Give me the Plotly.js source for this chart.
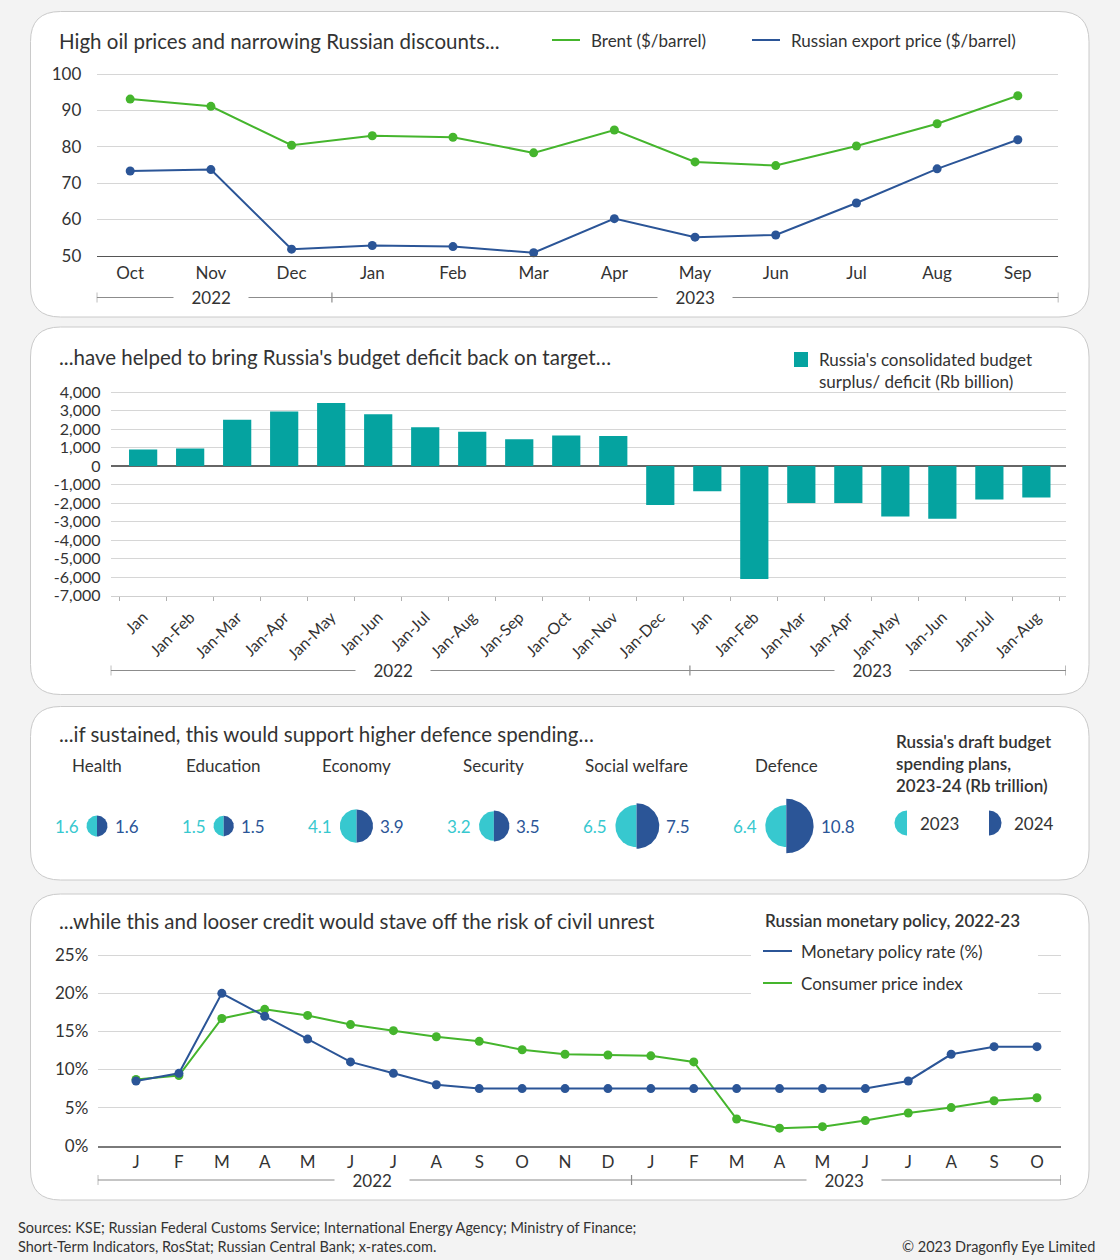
<!DOCTYPE html>
<html><head><meta charset="utf-8">
<script src="https://cdn.plot.ly/plotly-3.0.1.min.js"></script>
<style>html,body{margin:0;padding:0;background:#f3f3f3;}#chart{width:1120px;height:1260px;}</style>
</head><body><div id="chart"></div>
<script>
// ---------------- DATA ----------------
const oilMonths = ['Oct','Nov','Dec','Jan','Feb','Mar','Apr','May','Jun','Jul','Aug','Sep'];
const brentPrice = [93.1,91.1,80.4,83.0,82.6,78.3,84.6,75.8,74.8,80.2,86.3,94.0];
const russianExportPrice = [73.3,73.7,51.8,52.8,52.5,50.8,60.2,55.1,55.7,64.5,73.9,81.9];
const oilTickVals = [50,60,70,80,90,100];
const oilTickText = ['50','60','70','80','90','100'];
const yearLabels = ['2022','2023'];

const budgetPeriods = ['Jan','Jan-Feb','Jan-Mar','Jan-Apr','Jan-May','Jan-Jun','Jan-Jul','Jan-Aug','Jan-Sep','Jan-Oct','Jan-Nov','Jan-Dec','Jan','Jan-Feb','Jan-Mar','Jan-Apr','Jan-May','Jan-Jun','Jan-Jul','Jan-Aug'];
const budgetBalance = [900,950,2500,2950,3400,2800,2100,1850,1450,1650,1620,-2100,-1360,-6100,-2000,-2000,-2720,-2850,-1800,-1700];
const budgetTickVals = [4000,3000,2000,1000,0,-1000,-2000,-3000,-4000,-5000,-6000,-7000];
const budgetTickText = ['4,000','3,000','2,000','1,000','0','-1,000','-2,000','-3,000','-4,000','-5,000','-6,000','-7,000'];

const spendingSectors = ['Health','Education','Economy','Security','Social welfare','Defence'];
const spending2023 = [1.6,1.5,4.1,3.2,6.5,6.4];
const spending2024 = [1.6,1.5,3.9,3.5,7.5,10.8];
const spendingYears = ['2023','2024'];

const policyMonths = ['J','F','M','A','M','J','J','A','S','O','N','D','J','F','M','A','M','J','J','A','S','O'];
const policyRate = [8.5,9.5,20,17,14,11,9.5,8,7.5,7.5,7.5,7.5,7.5,7.5,7.5,7.5,7.5,7.5,8.5,12,13,13];
const consumerPrices = [8.7,9.2,16.7,17.9,17.1,15.9,15.1,14.3,13.7,12.6,12.0,11.9,11.8,11.0,3.5,2.3,2.5,3.3,4.3,5.0,5.9,6.3];
const pctTickVals = [0,5,10,15,20,25];
const pctTickText = ['0%','5%','10%','15%','20%','25%'];

// ---------------- STYLE / LAYOUT HELPERS ----------------
const W = 1120, H = 1260;
const FONT = '"Source Sans Pro", Lato, sans-serif';
const TXT = '#333333';
const GREEN = '#45b52d', BLUE = '#2b5597', TEAL = '#05a3a0', CYAN = '#37c8cf';
const fx = p => p / W, fy = p => 1 - p / H;
const idx = a => a.map((_, i) => i);

function roundRect(x0, y0, x1, y1, r) {
  const X = fx, Y = fy;
  return `M${X(x0 + r)},${Y(y0)} L${X(x1 - r)},${Y(y0)} Q${X(x1)},${Y(y0)} ${X(x1)},${Y(y0 + r)} ` +
    `L${X(x1)},${Y(y1 - r)} Q${X(x1)},${Y(y1)} ${X(x1 - r)},${Y(y1)} L${X(x0 + r)},${Y(y1)} ` +
    `Q${X(x0)},${Y(y1)} ${X(x0)},${Y(y1 - r)} L${X(x0)},${Y(y0 + r)} Q${X(x0)},${Y(y0)} ${X(x0 + r)},${Y(y0)} Z`;
}
function txt(x, y, text, o = {}) {
  const base = {xref: 'x3', yref: 'y3', x, y, text, showarrow: false, xanchor: 'left', yanchor: 'middle',
    font: {family: FONT, size: 17, color: TXT}};
  if (o.font) { o.font = Object.assign({}, base.font, o.font); }
  return Object.assign(base, o);
}
const shapes = [], annotations = [];

// panels
[[30.5, 11.5, 1089, 317], [30.5, 327, 1089, 694.5], [30.5, 706.5, 1089, 880], [30.5, 894, 1089, 1200]].forEach(p => {
  shapes.push({type: 'path', xref: 'paper', yref: 'paper', layer: 'below', path: roundRect(p[0], p[1], p[2], p[3], 30),
    fillcolor: '#ffffff', line: {color: '#cacaca', width: 1}});
});

// year brackets
function bracket(xref, x0, xmid, x1, ypx, labelPos) {
  const ln = {color: '#8c8c8c', width: 1.2};
  shapes.push({type: 'line', xref, yref: 'y3', x0, x1, y0: ypx, y1: ypx, line: ln, layer: 'above'});
  [x0, xmid, x1].forEach(x => shapes.push({type: 'line', xref, yref: 'y3', x0: x, x1: x, y0: ypx - 5, y1: ypx + 5, line: ln, layer: 'above'}));
  yearLabels.forEach((t, i) => annotations.push({xref, yref: 'y3', x: labelPos[i], y: ypx, text: '\u00a0\u00a0\u00a0\u00a0' + t + '\u00a0\u00a0\u00a0\u00a0',
    showarrow: false, bgcolor: '#ffffff', borderpad: 0, font: {family: FONT, size: 17, color: TXT}, xanchor: 'center', yanchor: 'middle'}));
}

// ---------------- PANEL 1 ----------------
annotations.push(txt(57, 41, 'High oil prices and narrowing Russian discounts...', {font: {size: 20.5}}));
shapes.push({type: 'line', xref: 'x3', yref: 'y3', x0: 552, x1: 580, y0: 40, y1: 40, line: {color: GREEN, width: 2}});
annotations.push(txt(589, 40, 'Brent ($/barrel)'));
shapes.push({type: 'line', xref: 'x3', yref: 'y3', x0: 752, x1: 780, y0: 40, y1: 40, line: {color: BLUE, width: 2}});
annotations.push(txt(789, 40, 'Russian export price ($/barrel)'));
bracket('x', -0.415, 2.5, 11.503, 297.5, [1, 7]);

// ---------------- PANEL 2 ----------------
annotations.push(txt(57, 357, "...have helped to bring Russia's budget deficit back on target\u2026", {font: {size: 20.5}}));
shapes.push({type: 'rect', xref: 'x3', yref: 'y3', x0: 794, x1: 808, y0: 352, y1: 367, fillcolor: TEAL, line: {width: 0}});
annotations.push(txt(817, 370, "Russia's consolidated budget<br>surplus/ deficit (Rb billion)", {align: 'left'}));
bracket('x2', -0.69, 11.63, 19.63, 670.5, [5.32, 15.5]);

// ---------------- PANEL 3 ----------------
annotations.push(txt(57, 734, '...if sustained, this would support higher defence spending\u2026', {font: {size: 20.5}}));
annotations.push(txt(894, 763, "Russia's draft budget<br>spending plans,<br>2023-24 (Rb trillion)", {align: 'left', font: {weight: 600}}));

const K = 8.3, GAP = 106, X0 = 97, CY = 826;
const rL = spending2023.map(v => K * Math.sqrt(v));
const rR = spending2024.map(v => K * Math.sqrt(v));
const cx = [];
spendingSectors.forEach((s, i) => cx.push(i === 0 ? X0 : cx[i - 1] + rR[i - 1] + rL[i] + GAP));

function halfCircle(c, cy, r, side) {
  const xs = [], ys = [];
  for (let k = 0; k <= 72; k++) {
    const t = -Math.PI / 2 + Math.PI * k / 72;
    xs.push(c + side * r * Math.cos(t)); ys.push(cy + r * Math.sin(t));
  }
  xs.push(xs[0]); ys.push(ys[0]);
  return {xs, ys};
}
const traces = [];
function halfTrace(c, cy, r, side, color) {
  const h = halfCircle(c, cy, r, side);
  traces.push({type: 'scatter', mode: 'lines', x: h.xs, y: h.ys, xaxis: 'x3', yaxis: 'y3', fill: 'toself',
    fillcolor: color, line: {width: 0, color: color}, hoverinfo: 'skip'});
}
spendingSectors.forEach((s, i) => {
  halfTrace(cx[i], CY, rL[i], -1, CYAN);
  halfTrace(cx[i], CY, rR[i], 1, BLUE);
  annotations.push(txt(cx[i], 765, s, {xanchor: 'center'}));
  annotations.push(txt(cx[i] - rL[i] - 6, CY, String(spending2023[i]), {xanchor: 'right', font: {color: CYAN}}));
  annotations.push(txt(cx[i] + rR[i] + 5, CY, String(spending2024[i]), {xanchor: 'left', font: {color: BLUE}}));
});
// legend glyphs
halfTrace(907, 823, 12.5, -1, CYAN);
halfTrace(989, 823, 12.5, 1, BLUE);
annotations.push(txt(918, 823, spendingYears[0]));
annotations.push(txt(1012, 823, spendingYears[1]));

// ---------------- PANEL 4 ----------------
annotations.push(txt(57, 921, '...while this and looser credit would stave off the risk of civil unrest', {font: {size: 20.5}}));
shapes.push({type: 'rect', xref: 'x3', yref: 'y3', x0: 751, x1: 1038, y0: 938, y1: 1003, fillcolor: '#ffffff', line: {width: 0}, layer: 'above'});
annotations.push(txt(763, 920, 'Russian monetary policy, 2022-23', {font: {size: 17, weight: 600}}));
shapes.push({type: 'line', xref: 'x3', yref: 'y3', x0: 763, x1: 792, y0: 951, y1: 951, line: {color: BLUE, width: 2}, layer: 'above'});
annotations.push(txt(799, 951, 'Monetary policy rate (%)'));
shapes.push({type: 'line', xref: 'x3', yref: 'y3', x0: 763, x1: 792, y0: 983, y1: 983, line: {color: GREEN, width: 2}, layer: 'above'});
annotations.push(txt(799, 983, 'Consumer price index'));
bracket('x4', -0.893, 11.55, 21.56, 1180, [5.5, 16.5]);

// footer
annotations.push(txt(16, 1227, 'Sources: KSE; Russian Federal Customs Service; International Energy Agency; Ministry of Finance;', {font: {size: 14.5}}));
annotations.push(txt(16, 1246, 'Short-Term Indicators, RosStat; Russian Central Bank; x-rates.com.', {font: {size: 14.5}}));
annotations.push(txt(1097, 1246, '\u00a9 2023 Dragonfly Eye Limited', {xanchor: 'right', font: {size: 14.5}}));

// ---------------- TRACES ----------------
const lineTrace = (x, y, color, xa, ya) => ({type: 'scatter', mode: 'lines+markers', x, y, xaxis: xa, yaxis: ya,
  line: {color, width: 2}, marker: {color, size: 9}, hoverinfo: 'skip', cliponaxis: false});
traces.push(lineTrace(idx(oilMonths), brentPrice, GREEN, 'x', 'y'));
traces.push(lineTrace(idx(oilMonths), russianExportPrice, BLUE, 'x', 'y'));
traces.push({type: 'bar', x: idx(budgetPeriods), y: budgetBalance, xaxis: 'x2', yaxis: 'y2', width: 0.6,
  marker: {color: TEAL, line: {width: 0}}, hoverinfo: 'skip'});
traces.push(lineTrace(idx(policyMonths), consumerPrices, GREEN, 'x4', 'y4'));
traces.push(lineTrace(idx(policyMonths), policyRate, BLUE, 'x4', 'y4'));

const tf = s => ({family: FONT, size: s, color: TXT});
const noTick = {ticks: 'outside', tickcolor: 'rgba(0,0,0,0)'};
const layout = {
  width: W, height: H, margin: {l: 0, r: 0, t: 0, b: 0}, paper_bgcolor: '#f3f3f3', plot_bgcolor: 'rgba(0,0,0,0)',
  showlegend: false, font: {family: FONT, color: TXT},
  xaxis: Object.assign({domain: [fx(96.7), fx(1058.4)], range: [-0.415, 11.503], tickmode: 'array', tickvals: idx(oilMonths),
    ticktext: oilMonths, showgrid: false, zeroline: false, showline: true, linecolor: '#555', linewidth: 1.5, ticklen: 1,
    tickfont: tf(17), anchor: 'y', fixedrange: true}, noTick),
  yaxis: Object.assign({domain: [fy(255.7), fy(70)], range: [50, 101.1], tickmode: 'array', tickvals: oilTickVals, ticktext: oilTickText,
    gridcolor: '#d6d6d6', zeroline: false, ticklen: 11, tickfont: tf(17), anchor: 'x', fixedrange: true}, noTick),
  xaxis2: Object.assign({domain: [fx(110.7), fx(1066)], range: [-0.69, 19.63], tickmode: 'array', tickvals: idx(budgetPeriods),
    ticktext: budgetPeriods, tickangle: -45, showgrid: false, zeroline: false, showline: true, linecolor: '#cfcfcf', linewidth: 1,
    ticklen: 5, tickfont: tf(16), anchor: 'y2', fixedrange: true,
    minor: {tickmode: 'array', tickvals: budgetPeriods.map((_, i) => i - 0.5).concat([budgetPeriods.length - 0.5]), ticks: 'outside', ticklen: 4, tickcolor: '#b0b0b0', showgrid: false}}, noTick),
  yaxis2: Object.assign({domain: [fy(595.7), fy(390)], range: [-7000, 4108], tickmode: 'array', tickvals: budgetTickVals, ticktext: budgetTickText,
    gridcolor: '#d6d6d6', zeroline: true, zerolinecolor: '#666', zerolinewidth: 1.5, ticklen: 6, tickfont: tf(16), anchor: 'x2', fixedrange: true}, noTick),
  xaxis3: {domain: [0, 1], range: [0, W], visible: false, anchor: 'y3', fixedrange: true},
  yaxis3: {domain: [0, 1], range: [H, 0], visible: false, anchor: 'x3', fixedrange: true},
  xaxis4: {domain: [fx(97.7), fx(1061)], range: [-0.893, 21.56], tickmode: 'array', tickvals: idx(policyMonths),
    ticktext: policyMonths, showgrid: false, zeroline: false, showline: true, linecolor: '#7a7a7a', linewidth: 2, ticks: '',
    tickfont: tf(17), anchor: 'y4', fixedrange: true},
  yaxis4: Object.assign({domain: [fy(1145.7), fy(951)], range: [0, 25.56], tickmode: 'array', tickvals: pctTickVals, ticktext: pctTickText,
    gridcolor: '#d6d6d6', zeroline: false, ticklen: 5, tickfont: tf(17), anchor: 'x4', fixedrange: true}, noTick),
  shapes, annotations
};
Plotly.newPlot('chart', traces, layout, {displayModeBar: false, staticPlot: true});
</script></body></html>
